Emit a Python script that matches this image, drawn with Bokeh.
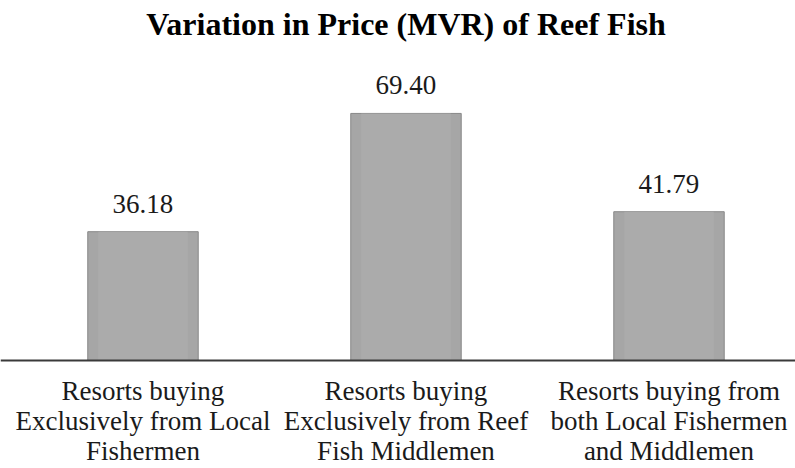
from bokeh.plotting import figure
from bokeh.models import Range1d, Span
from bokeh.core.properties import value
from bokeh.embed import file_html
from bokeh.resources import INLINE

title_text = "Variation in Price (MVR) of Reef Fish"
categories = [
    "Resorts buying\nExclusively from Local\nFishermen",
    "Resorts buying\nExclusively from Reef\nFish Middlemen",
    "Resorts buying from\nboth Local Fishermen\nand Middlemen",
]
prices = [36.18, 69.40, 41.79]
price_labels = ["36.18", "69.40", "41.79"]

xs = list(range(len(categories)))

p = figure(width=795, height=468, output_backend="svg", toolbar_location=None,
           x_range=Range1d(-0.5418, 2.481), y_range=Range1d(-30.34, 101.12),
           min_border=0, min_border_left=0, min_border_right=0,
           min_border_top=0, min_border_bottom=0)
p.axis.visible = False
p.grid.visible = False
p.outline_line_color = None
p.background_fill_color = "white"

# bars
p.vbar(x=xs, top=prices, bottom=0, width=0.42,
       fill_color="#a6a6a6", line_color="#888888", line_width=1)
p.vbar(x=xs, top=prices, bottom=0, width=0.34,
       fill_color="#adadad", line_color=None, fill_alpha=0.8)

# baseline
p.add_layout(Span(location=0, dimension="width", line_color="#3a3a3a", line_width=2))

serif = value("Liberation Serif")

# value labels
p.text(x=xs, y=prices, text=price_labels, text_font=serif, text_font_size="27px",
       text_align="center", text_baseline="alphabetic", y_offset=-28,
       text_color="#1a1a1a")

# category labels
p.text(x=xs, y=[0] * len(xs), text=categories, text_font=serif, text_font_size="27px",
       text_align="center", text_baseline="top", y_offset=16,
       text_line_height=1.0, text_color="#1a1a1a")

# title
p.text(x=[1], y=[p.y_range.end], text=[title_text], text_font=serif,
       text_font_size="32px", text_font_style="bold", text_align="center",
       text_baseline="alphabetic", y_offset=23, text_color="#000000")

open("out.html", "w").write(file_html(p, INLINE))
